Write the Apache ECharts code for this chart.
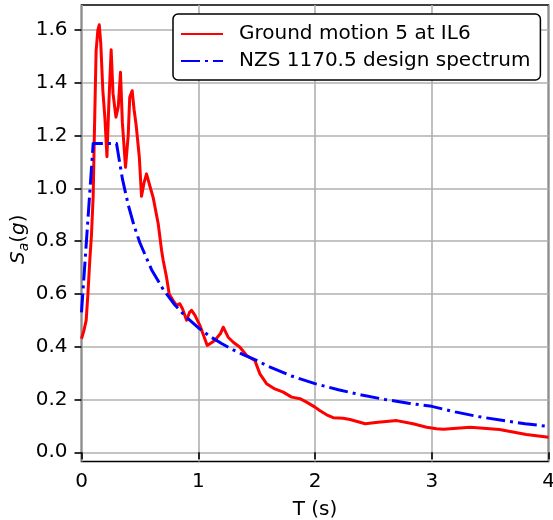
<!DOCTYPE html>
<html>
<head>
<meta charset="utf-8">
<script src="https://cdn.jsdelivr.net/npm/echarts@6/dist/echarts.min.js"></script>
<style>
html,body{margin:0;padding:0;background:#fff;}
#chart{width:553px;height:520px;}
</style>
</head>
<body>
<div id="chart"></div>
<script>
// Ground motion 5 at IL6 (period T in s, Sa in g)
const redT = [0.00, 0.02, 0.04, 0.055, 0.07, 0.085, 0.10, 0.11, 0.125, 0.14, 0.152, 0.165, 0.183, 0.20, 0.218,
  0.235, 0.254, 0.27, 0.295, 0.315, 0.334, 0.35, 0.377, 0.40, 0.413, 0.434, 0.45, 0.468, 0.495, 0.514,
  0.535, 0.557, 0.585, 0.614, 0.657, 0.686, 0.70, 0.728, 0.751, 0.785, 0.814, 0.842, 0.865, 0.90, 0.925,
  0.943, 0.971, 1.014, 1.077, 1.142, 1.19, 1.214, 1.256, 1.30, 1.357, 1.414, 1.485, 1.528, 1.585, 1.656,
  1.728, 1.80, 1.871, 1.928, 2.00, 2.04, 2.10, 2.156, 2.24, 2.30, 2.43, 2.54, 2.70, 2.84, 2.956,
  3.04, 3.10, 3.33, 3.58, 3.81, 4.00];
const redSa = [0.43, 0.46, 0.50, 0.60, 0.72, 0.82, 0.97, 1.20, 1.52, 1.60, 1.62, 1.55, 1.37, 1.27, 1.12,
  1.33, 1.525, 1.36, 1.27, 1.31, 1.44, 1.25, 1.08, 1.20, 1.345, 1.37, 1.30, 1.24, 1.12, 0.97,
  1.02, 1.055, 1.01, 0.965, 0.866, 0.765, 0.727, 0.664, 0.60, 0.575, 0.557, 0.563, 0.544, 0.50, 0.53,
  0.538, 0.52, 0.481, 0.405, 0.424, 0.45, 0.474, 0.436, 0.417, 0.398, 0.367, 0.348, 0.297, 0.26, 0.24,
  0.228, 0.209, 0.203, 0.19, 0.171, 0.158, 0.142, 0.131, 0.129, 0.124, 0.108, 0.114, 0.12, 0.108, 0.095,
  0.089, 0.087, 0.095, 0.086, 0.067, 0.057];

// NZS 1170.5 design spectrum
const blueT = [0, 0.1, 0.3, 0.35, 0.4, 0.45, 0.5, 0.6, 0.7, 0.8, 0.9, 1.0, 1.1, 1.2, 1.3, 1.4, 1.5,
  1.6, 1.8, 2.0, 2.2, 2.4, 2.6, 2.8, 3.0, 3.2, 3.4, 3.6, 3.8, 4.0];
const blueSa = [0.53, 1.17, 1.17, 1.037, 0.938, 0.859, 0.794, 0.692, 0.617, 0.558, 0.511, 0.472, 0.439,
  0.412, 0.388, 0.367, 0.348, 0.326, 0.289, 0.260, 0.237, 0.217, 0.200, 0.186, 0.174, 0.153, 0.135,
  0.121, 0.108, 0.098];

const seriesNames = ['Ground motion 5 at IL6', 'NZS 1170.5 design spectrum'];
const xTicks = [0, 1, 2, 3, 4];
const yTicks = [0.0, 0.2, 0.4, 0.6, 0.8, 1.0, 1.2, 1.4, 1.6];

const FONT = 'DejaVu Sans';
const zip = (a, b) => a.map((v, i) => [v, b[i]]);

const chart = echarts.init(document.getElementById('chart'), null, {renderer: 'canvas'});
chart.setOption({
  animation: false,
  backgroundColor: '#fff',
  textStyle: {fontFamily: FONT},
  grid: {
    left: 81.5, right: 4.5, top: 5, bottom: 58.5,
    show: true, borderColor: '#000', borderWidth: 1.6, backgroundColor: 'transparent',
    containLabel: false, outerBoundsMode: 'none'
  },
  legend: {
    orient: 'vertical',
    left: 173, top: 14,
    padding: [10, 10, 9, 7],
    itemGap: 7,
    itemWidth: 42, itemHeight: 20,
    backgroundColor: '#fff',
    borderColor: '#000', borderWidth: 1.5, borderRadius: 5,
    itemStyle: {opacity: 0, color: 'rgba(0,0,0,0)', borderWidth: 0},
    textStyle: {fontFamily: FONT, fontSize: 20, color: '#000', padding: [0, 0, 0, 11]},
    data: seriesNames
  },
  xAxis: {
    type: 'value', min: 0, max: 4, interval: 1,
    name: 'T (s)', nameLocation: 'middle', nameGap: 38,
    nameTextStyle: {fontFamily: FONT, fontSize: 20, color: '#000'},
    axisLine: {show: false},
    axisTick: {show: true, length: 7, inside: false, lineStyle: {color: '#000', width: 1.6}},
    axisLabel: {fontFamily: FONT, fontSize: 20, color: '#000', margin: 10,
      formatter: v => xTicks.includes(v) ? String(v) : ''},
    splitLine: {show: true, lineStyle: {color: '#b0b0b0', width: 1.6}}
  },
  yAxis: {
    type: 'value', min: -0.035, max: 1.695,
    name: '{i|S}{s|a}{n|(}{i|g}{n|)}', nameLocation: 'middle', nameGap: 50, nameRotate: 90,
    nameMoveOverlap: false,
    nameTextStyle: {
      fontFamily: FONT, fontSize: 20, color: '#000', padding: [0, 12, 0, 0],
      rich: {
        i: {fontFamily: FONT, fontSize: 20, fontStyle: 'italic', color: '#000'},
        s: {fontFamily: FONT, fontSize: 14, fontStyle: 'italic', color: '#000', padding: [12, 0, 0, 0]},
        n: {fontFamily: FONT, fontSize: 20, color: '#000'}
      }
    },
    axisLine: {show: false},
    axisTick: {show: true, length: 7, inside: false, customValues: yTicks, lineStyle: {color: '#000', width: 1.6}},
    axisLabel: {fontFamily: FONT, fontSize: 20, color: '#000', margin: 14, customValues: yTicks,
      formatter: v => v.toFixed(1)},
    splitLine: {show: true, lineStyle: {color: '#b0b0b0', width: 1.6}}
  },
  series: [
    {
      name: seriesNames[0], type: 'line', data: zip(redT, redSa),
      showSymbol: false, symbol: 'none', smooth: false, clip: true,
      lineStyle: {color: '#ff0000', width: 3, join: 'round'},
      itemStyle: {color: '#ff0000'}, z: 3
    },
    {
      name: seriesNames[1], type: 'line', data: zip(blueT, blueSa),
      showSymbol: false, symbol: 'none', smooth: false, clip: true,
      lineStyle: {color: '#0000ff', width: 3, type: [19, 5, 3, 5], cap: 'butt', join: 'round'},
      itemStyle: {color: '#0000ff'}, z: 4
    }
  ]
});
</script>
</body>
</html>
